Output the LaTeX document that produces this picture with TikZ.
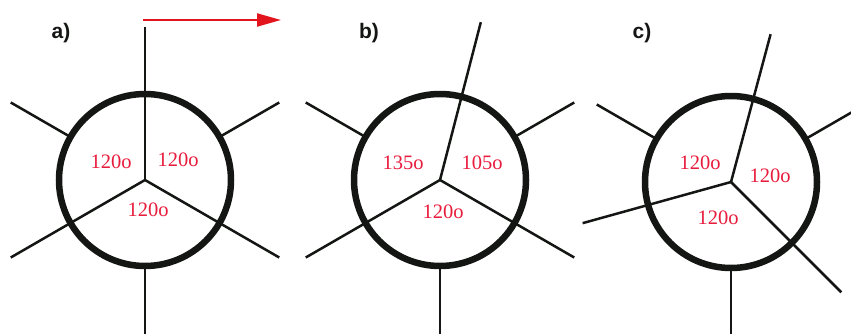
\documentclass[tikz,border=0pt]{standalone}
\usepackage{fontspec}
\setmainfont{Liberation Serif}
\newfontfamily\panelfont{Liberation Sans}
\usetikzlibrary{arrows.meta}
\definecolor{angred}{RGB}{232,28,60}
\definecolor{arrred}{RGB}{226,20,30}
\definecolor{ink}{RGB}{20,22,20}
\tikzset{
  bond/.style={line width=2.5pt, draw=ink},
  ring/.style={line width=6.5pt, draw=ink},
  anglbl/.style={text=angred, font=\fontsize{20.5}{20.5}\selectfont, inner sep=0pt},
  panellbl/.style={font=\panelfont\bfseries\fontsize{21}{21}\selectfont, inner sep=0pt, text=ink},
  redarrow/.style={line width=2pt, draw=arrred, -{Triangle[length=24pt,width=13pt,fill=arrred]}},
}
\begin{document}
\begin{tikzpicture}[x=1pt,y=1pt]
\useasboundingbox (0,0) rectangle (851,333);
\clip (0,0) rectangle (851,333);

% ---------- panel a ----------
\coordinate (ca) at (145,153);
\draw[ring] (ca) circle (86);
\path (ca) +(90:153) coordinate (af1) +(210:155) coordinate (af2) +(330:155) coordinate (af3);
\path (ca) +(30:88) coordinate (ab1i) +(30:155) coordinate (ab1o)
           +(150:88) coordinate (ab2i) +(150:155) coordinate (ab2o)
           +(270:88) coordinate (ab3i) +(270:165) coordinate (ab3o);
\draw[bond] (ca) -- (af1);
\draw[bond] (ca) -- (af2);
\draw[bond] (ca) -- (af3);
\draw[bond] (ab1i) -- (ab1o);
\draw[bond] (ab2i) -- (ab2o);
\draw[bond] (ab3i) -- (ab3o);
\node[anglbl] (a120l) at (111,171) {120o};
\node[anglbl] (a120r) at (178,173) {120o};
\node[anglbl] (a120b) at (148,123) {120o};
\node[panellbl] (la) at (61,300) {a)};
\coordinate (arrS) at (143,313);
\coordinate (arrE) at (281,313);
\draw[redarrow] (arrS) -- (arrE);

% ---------- panel b ----------
\coordinate (cb) at (440,153);
\draw[ring] (cb) circle (86);
\path (cb) +(75.5:163) coordinate (bf1) +(210:155) coordinate (bf2) +(330:155) coordinate (bf3);
\path (cb) +(30:88) coordinate (bb1i) +(30:155) coordinate (bb1o)
           +(150:88) coordinate (bb2i) +(150:155) coordinate (bb2o)
           +(270:88) coordinate (bb3i) +(270:165) coordinate (bb3o);
\draw[bond] (cb) -- (bf1);
\draw[bond] (cb) -- (bf2);
\draw[bond] (cb) -- (bf3);
\draw[bond] (bb1i) -- (bb1o);
\draw[bond] (bb2i) -- (bb2o);
\draw[bond] (bb3i) -- (bb3o);
\node[anglbl] (b135) at (403,170) {135o};
\node[anglbl] (b105) at (482,170) {105o};
\node[anglbl] (b120) at (443,121) {120o};
\node[panellbl] (lb) at (369,300) {b)};

% ---------- panel c ----------
\coordinate (cc) at (731,151);
\draw[ring] (cc) circle (86);
\path (cc) +(75:153) coordinate (cf1) +(195.5:154) coordinate (cf2) +(315:156) coordinate (cf3);
\path (cc) +(30:88) coordinate (cb1i) +(30:155) coordinate (cb1o)
           +(150:88) coordinate (cb2i) +(150:155) coordinate (cb2o)
           +(270:88) coordinate (cb3i) +(270:165) coordinate (cb3o);
\draw[bond] (cc) -- (cf1);
\draw[bond] (cc) -- (cf2);
\draw[bond] (cc) -- (cf3);
\draw[bond] (cb1i) -- (cb1o);
\draw[bond] (cb2i) -- (cb2o);
\draw[bond] (cb3i) -- (cb3o);
\node[anglbl] (c120l) at (700,170) {120o};
\node[anglbl] (c120r) at (770,157) {120o};
\node[anglbl] (c120b) at (718,115) {120o};
\node[panellbl] (lc) at (642,300) {c)};
\end{tikzpicture}
\end{document}
